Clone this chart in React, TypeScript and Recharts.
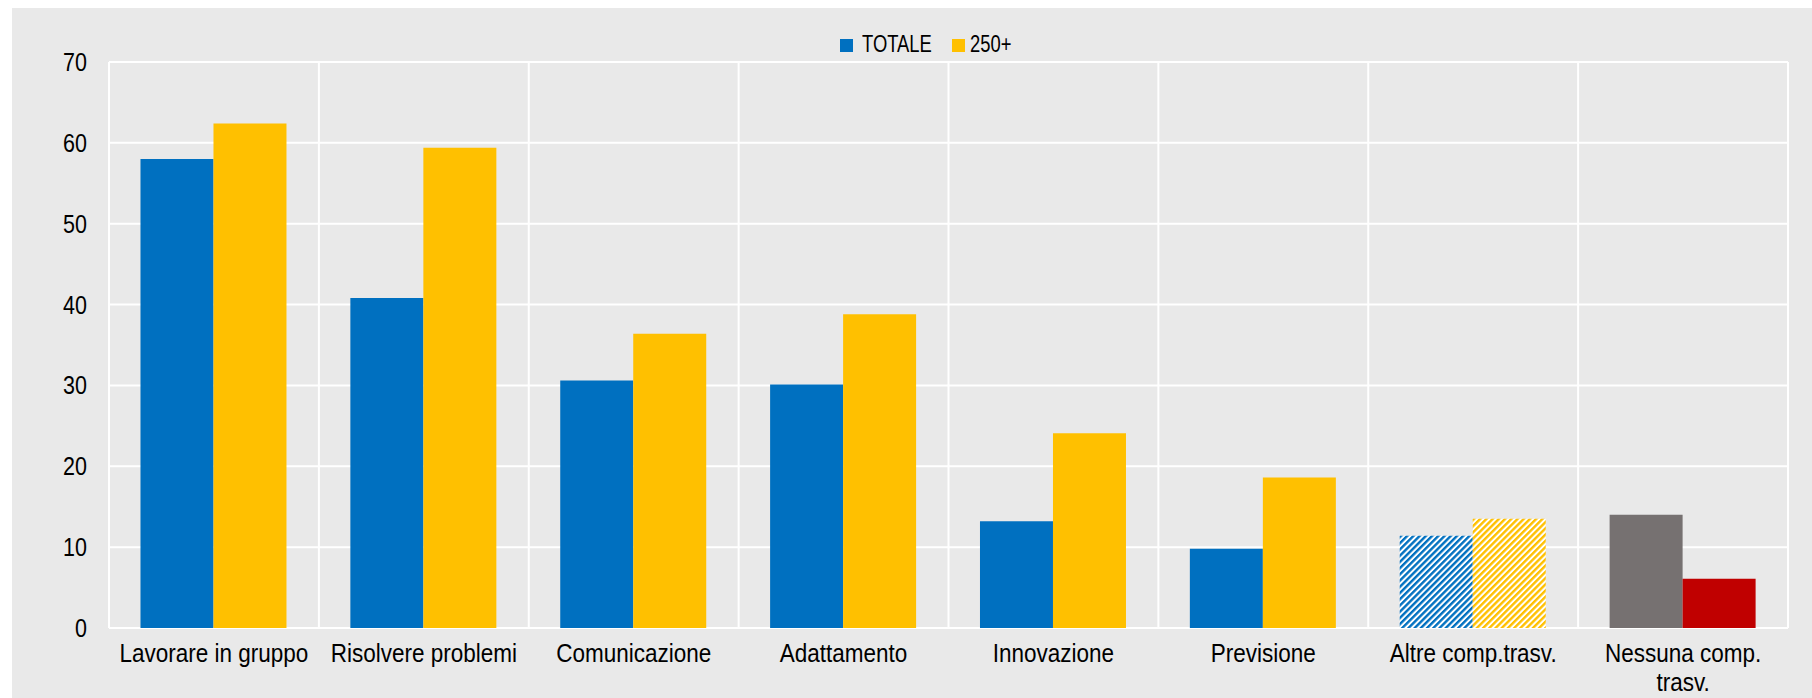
import React from 'react'
import { BarChart, Bar, XAxis, YAxis, CartesianGrid, Cell } from 'recharts'

const categories = [
  'Lavorare in gruppo',
  'Risolvere problemi',
  'Comunicazione',
  'Adattamento',
  'Innovazione',
  'Previsione',
  'Altre comp.trasv.',
  'Nessuna comp. trasv.',
]
const totale = [58, 40.8, 30.6, 30.1, 13.2, 9.8, 11.4, 14.0]
const grandi = [62.4, 59.4, 36.4, 38.8, 24.1, 18.6, 13.5, 6.1]
const yTicks = [0, 10, 20, 30, 40, 50, 60, 70]

// label lines for the wrapped category
const labelLines: Record<string, string[]> = {
  'Nessuna comp. trasv.': ['Nessuna comp.', 'trasv.'],
}

const BLUE = '#0070C0'
const YELLOW = '#FFC000'
const GRAY = '#767171'
const RED = '#C00000'
const BG = '#E9E9E9'
const FONT = "'Liberation Sans', Arial, sans-serif"

const data = categories.map((name, i) => ({
  name,
  totale: totale[i],
  grandi: grandi[i],
}))

const fillTotale = (name: string) =>
  name === 'Altre comp.trasv.' ? 'url(#hatchBlue)' : name === 'Nessuna comp. trasv.' ? GRAY : BLUE
const fillGrandi = (name: string) =>
  name === 'Altre comp.trasv.' ? 'url(#hatchYellow)' : name === 'Nessuna comp. trasv.' ? RED : YELLOW

// narrow-ish text like the original (Arial Narrow look)
const CategoryTick = (props: any) => {
  const { x, y, payload } = props
  const lines = labelLines[payload.value] || [payload.value]
  return (
    <g transform={`translate(${x},${y}) scale(0.9,1)`}>
      {lines.map((l, i) => (
        <text
          key={i}
          x={0}
          y={i * 29}
          dy={26}
          textAnchor="middle"
          fill="#000"
          fontSize={25}
          fontFamily={FONT}
        >
          {l}
        </text>
      ))}
    </g>
  )
}

const ValueTick = (props: any) => {
  const { x, y, payload } = props
  return (
    <g transform={`translate(${x},${y}) scale(0.86,1)`}>
      <text x={0} y={0} dy={9} textAnchor="end" fill="#000" fontSize={25} fontFamily={FONT}>
        {payload.value}
      </text>
    </g>
  )
}

const legendText: React.CSSProperties = {
  position: 'absolute',
  top: 33,
  fontFamily: FONT,
  fontSize: 23,
  lineHeight: '23px',
  color: '#000',
  transform: 'scaleX(0.8)',
  transformOrigin: 'left center',
  whiteSpace: 'nowrap',
}

const App = () => {
  return (
    <div style={{ position: 'absolute', left: 0, top: 0, width: 1812, height: 698, background: '#fff' }}>
      <div style={{ position: 'absolute', left: 12, top: 8, right: 0, bottom: 0, background: BG }} />
      <span style={{ position: 'absolute', left: 840, top: 39, width: 13, height: 13, background: BLUE }} />
      <span style={{ ...legendText, left: 862 }}>TOTALE</span>
      <span style={{ position: 'absolute', left: 952, top: 39, width: 13, height: 13, background: YELLOW }} />
      <span style={{ ...legendText, left: 970 }}>250+</span>
      <BarChart
        width={1812}
        height={698}
        data={data}
        margin={{ top: 62, right: 24, bottom: 0, left: 0 }}
        barCategoryGap="15%"
        barGap={0}
        style={{ position: 'absolute', left: 0, top: 0 }}
      >
        <defs>
          <pattern id="hatchBlue" width="4.4" height="4.4" patternUnits="userSpaceOnUse" patternTransform="rotate(45)">
            <rect width="4.4" height="4.4" fill="#fff" />
            <rect width="2.4" height="4.4" fill={BLUE} />
          </pattern>
          <pattern id="hatchYellow" width="4.4" height="4.4" patternUnits="userSpaceOnUse" patternTransform="rotate(45)">
            <rect width="4.4" height="4.4" fill="#fff" />
            <rect width="2.4" height="4.4" fill={YELLOW} />
          </pattern>
        </defs>
        <CartesianGrid
          stroke="#fff"
          strokeWidth={2}
          verticalCoordinatesGenerator={({ offset }: any) =>
            categories.map((_, i) => offset.left + (i * offset.width) / categories.length).concat(offset.left + offset.width)
          }
        />
        <XAxis
          dataKey="name"
          axisLine={false}
          tickLine={false}
          height={70}
          interval={0}
          tick={<CategoryTick />}
        />
        <YAxis
          domain={[0, 70]}
          ticks={yTicks}
          width={109}
          axisLine={false}
          tickLine={false}
          tickSize={0}
          tickMargin={22}
          tick={<ValueTick />}
        />
        <Bar dataKey="totale" isAnimationActive={false}>
          {data.map((d, i) => (
            <Cell key={i} fill={fillTotale(d.name)} />
          ))}
        </Bar>
        <Bar dataKey="grandi" isAnimationActive={false}>
          {data.map((d, i) => (
            <Cell key={i} fill={fillGrandi(d.name)} />
          ))}
        </Bar>
      </BarChart>
    </div>
  )
}

export default App
